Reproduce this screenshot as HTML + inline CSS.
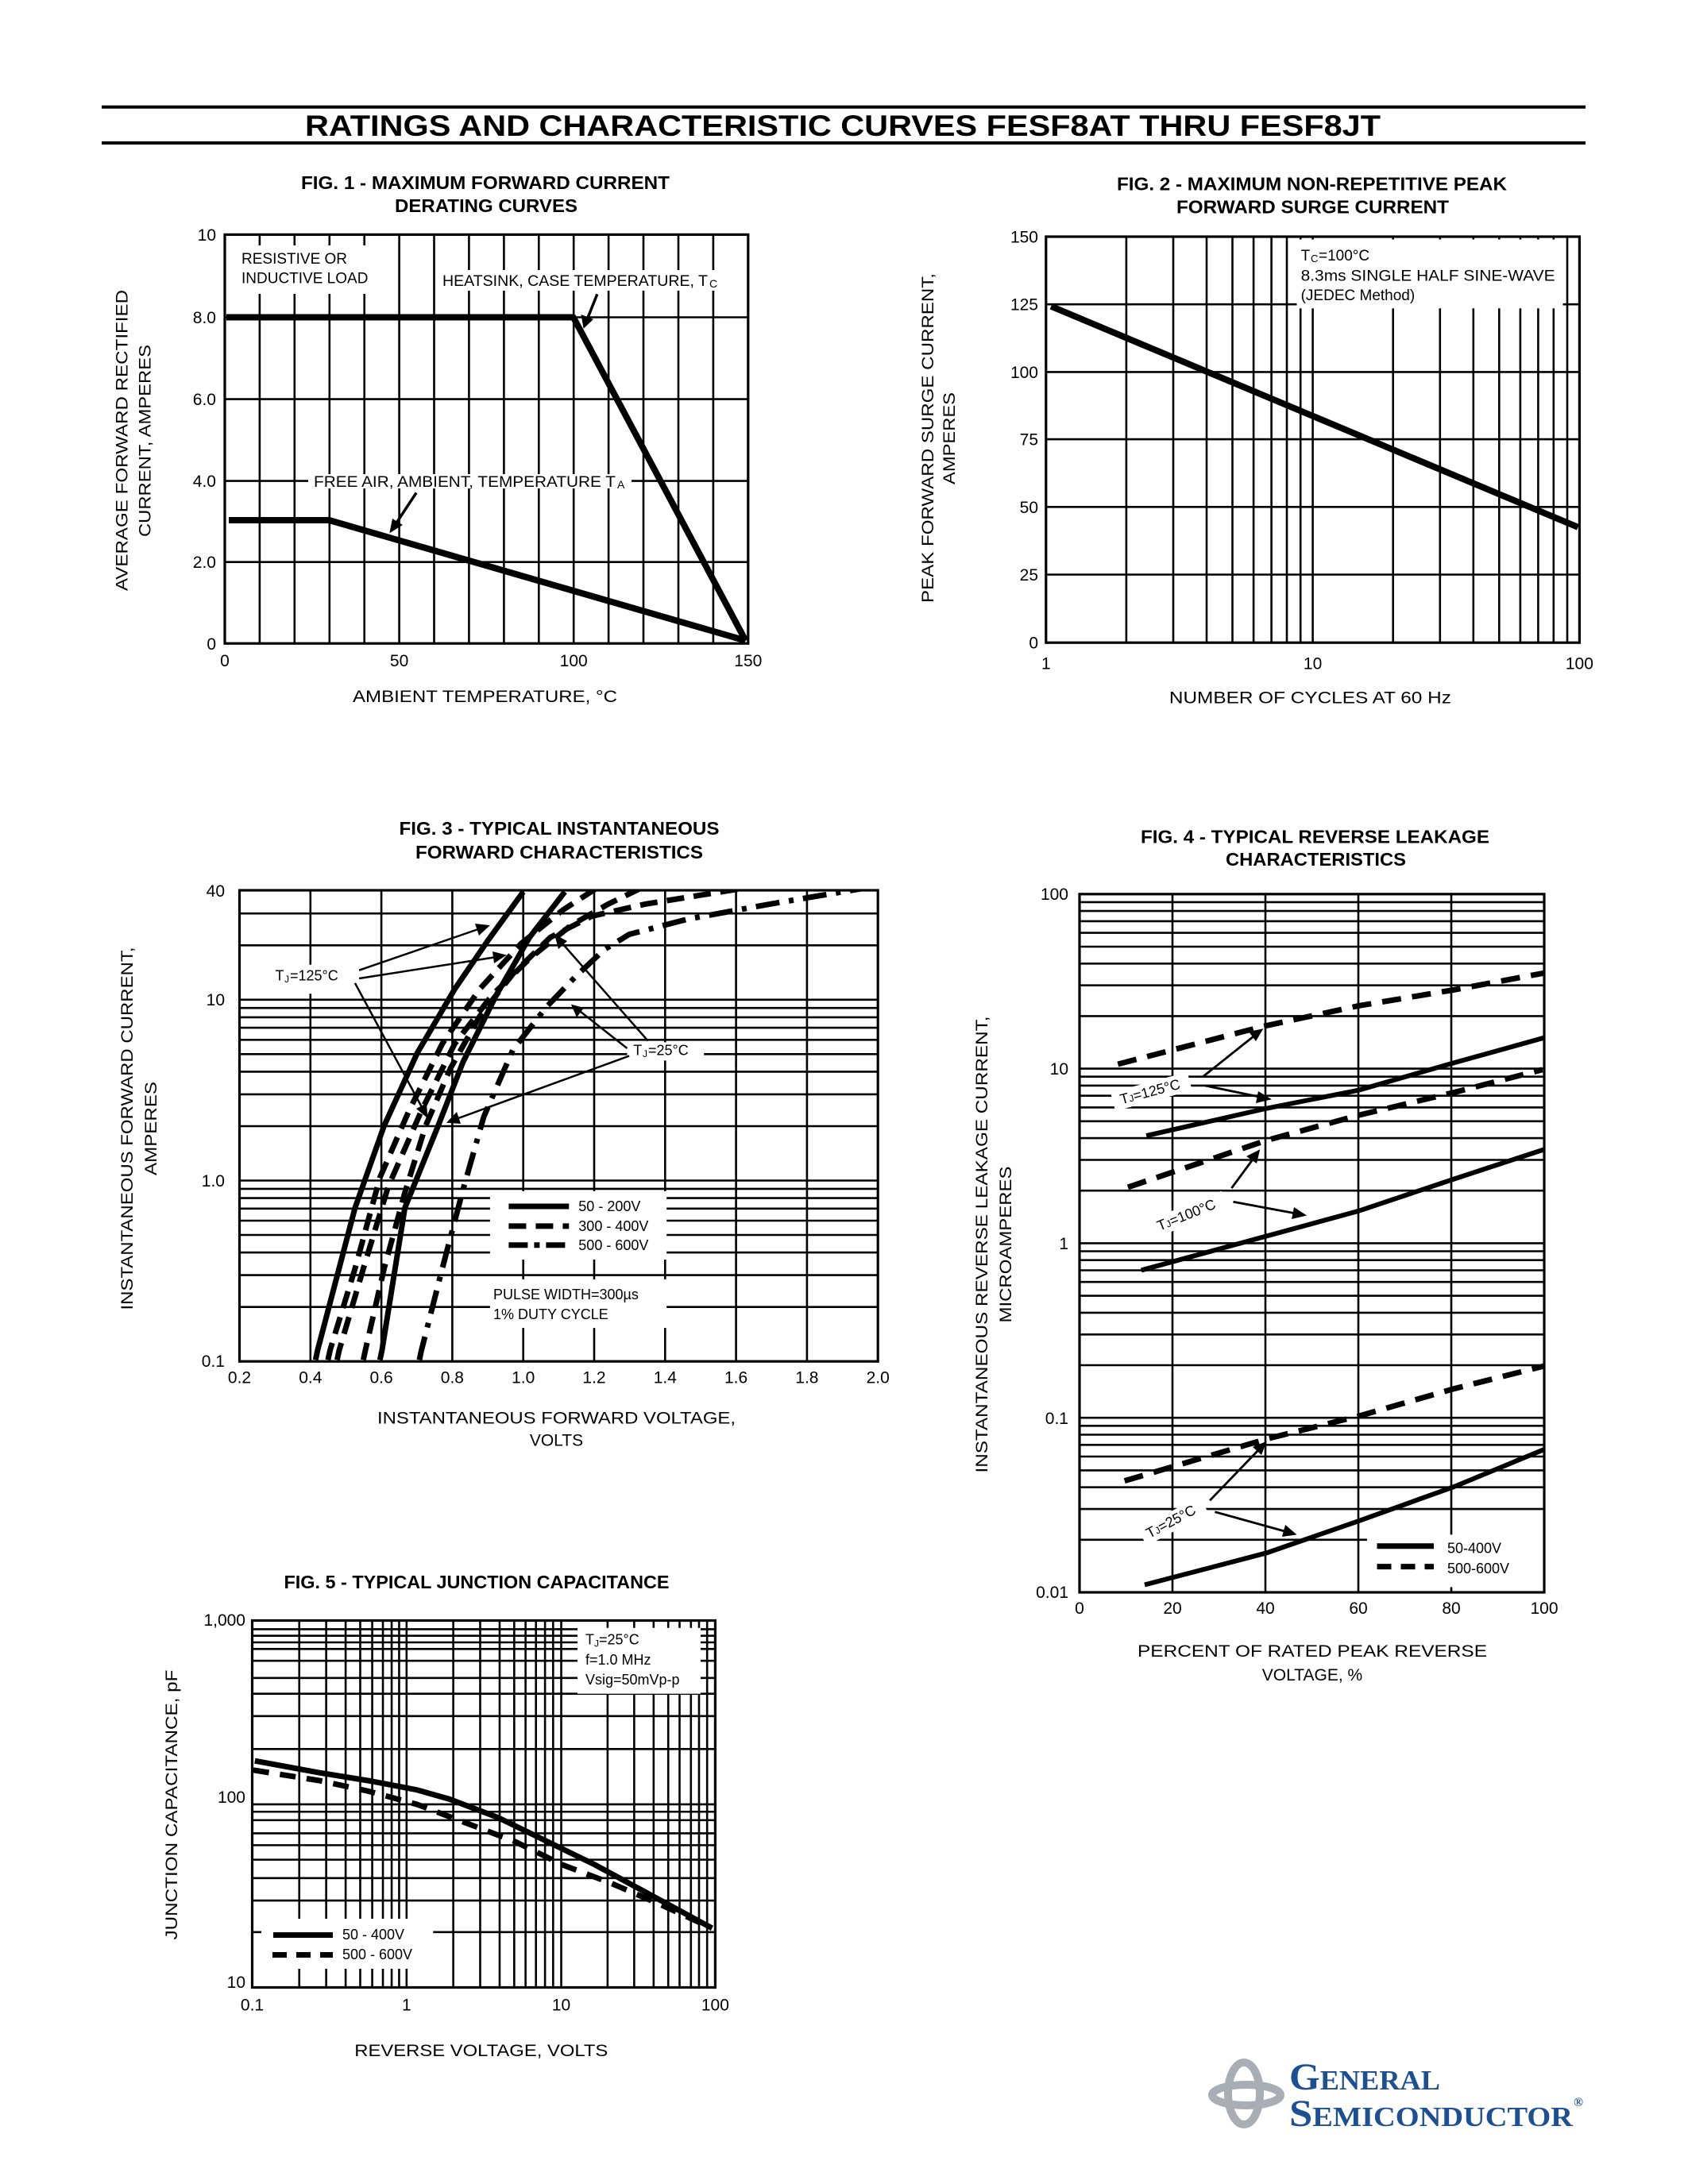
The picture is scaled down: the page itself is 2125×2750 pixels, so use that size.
<!DOCTYPE html>
<html><head><meta charset="utf-8"><style>
html,body{margin:0;padding:0;background:#fff;}
svg{display:block;}
text{font-family:"Liberation Sans",Arial,sans-serif;fill:#000;}
text.serif{font-family:"Liberation Serif","DejaVu Serif",serif;font-weight:bold;fill:#1c4f93;}
.t{font-size:21px;}
.b{font-weight:bold;font-size:23px;}
.g{stroke:#000;stroke-width:2.6;fill:none;}
.bx{stroke:#000;stroke-width:3.2;fill:none;}
.c{stroke:#000;fill:none;stroke-linejoin:round;}
.ns{vector-effect:non-scaling-stroke;}
</style></head><body>
<svg width="2125" height="2750" viewBox="0 0 2125 2750" xmlns="http://www.w3.org/2000/svg">
<defs>
<clipPath id="c3"><rect x="301.5" y="1121" width="803.7" height="593.2"/></clipPath>
<clipPath id="c4"><rect x="1359" y="1125.8" width="585" height="879.2"/></clipPath>
<clipPath id="c5"><rect x="317.5" y="2040.5" width="582.9" height="462"/></clipPath>
</defs>
<rect width="2125" height="2750" fill="#fff"/>

<!-- HEADER -->
<line x1="128" y1="134.7" x2="1996" y2="134.7" stroke="#000" stroke-width="4"/>
<line x1="128" y1="180" x2="1996" y2="180" stroke="#000" stroke-width="4"/>
<text x="384" y="171" style="font-weight:bold;font-size:37px" textLength="1354" lengthAdjust="spacingAndGlyphs">RATINGS AND CHARACTERISTIC CURVES FESF8AT THRU FESF8JT</text>

<!-- ============ FIG 1 ============ -->
<text class="b" x="379" y="238" textLength="464" lengthAdjust="spacingAndGlyphs">FIG. 1 - MAXIMUM FORWARD CURRENT</text>
<text class="b" x="497" y="267" textLength="230" lengthAdjust="spacingAndGlyphs">DERATING CURVES</text>
<g class="g">
<path d="M326.9 295.4V810.2M370.8 295.4V810.2M414.8 295.4V810.2M458.7 295.4V810.2M502.6 295.4V810.2M546.5 295.4V810.2M590.4 295.4V810.2M634.4 295.4V810.2M678.3 295.4V810.2M722.2 295.4V810.2M766.1 295.4V810.2M810 295.4V810.2M854 295.4V810.2M897.9 295.4V810.2"/>
<path d="M283 399.5H941.8M283 502.6H941.8M283 605.6H941.8M283 707.7H941.8"/>
</g>
<rect x="287" y="309" width="196" height="61" fill="#fff"/>
<rect x="550" y="340" width="380" height="26" fill="#fff"/>
<rect x="388" y="597" width="407" height="18" fill="#fff"/>
<rect class="bx" x="283" y="295.4" width="658.8" height="514.8"/>
<text x="304" y="332" style="font-size:19px">RESISTIVE OR</text>
<text x="304" y="356.6" style="font-size:19px">INDUCTIVE LOAD</text>
<text x="557" y="360" style="font-size:19px" textLength="334" lengthAdjust="spacingAndGlyphs">HEATSINK, CASE TEMPERATURE, T</text><text x="893" y="362" style="font-size:14px">C</text>
<text x="395" y="613" style="font-size:19px" textLength="380" lengthAdjust="spacingAndGlyphs">FREE AIR, AMBIENT, TEMPERATURE T</text><text x="777" y="615" style="font-size:14px">A</text>
<polyline class="c" stroke-width="8" points="285,399.5 721.8,399.5 938.6,806.6"/>
<polyline class="c" stroke-width="8" points="288,655 414.4,655 938.6,806.6"/>
<line x1="751.8" y1="370.4" x2="740" y2="400" stroke="#000" stroke-width="3.5"/>
<polygon points="734.6,413.8 731.5,396 747,402"/>
<line x1="524.1" y1="620.4" x2="500" y2="657" stroke="#000" stroke-width="3.5"/>
<polygon points="490.3,671.4 494,653 507,661"/>
<g class="t" text-anchor="end">
<text x="272" y="303">10</text><text x="272" y="407">8.0</text><text x="272" y="510">6.0</text><text x="272" y="613">4.0</text><text x="272" y="715">2.0</text><text x="272" y="818">0</text>
</g>
<g class="t" text-anchor="middle">
<text x="283" y="839">0</text><text x="502.6" y="839">50</text><text x="722.2" y="839">100</text><text x="941.8" y="839">150</text>
<text x="610.5" y="884" textLength="333" lengthAdjust="spacingAndGlyphs">AMBIENT TEMPERATURE, °C</text>
<text transform="translate(160.6,554.5) rotate(-90)" textLength="379" lengthAdjust="spacingAndGlyphs">AVERAGE FORWARD RECTIFIED</text>
<text transform="translate(189.3,555) rotate(-90)" textLength="242" lengthAdjust="spacingAndGlyphs">CURRENT, AMPERES</text>
</g>

<!-- ============ FIG 2 ============ -->
<text class="b" x="1406" y="239.3" textLength="491" lengthAdjust="spacingAndGlyphs">FIG. 2 - MAXIMUM NON-REPETITIVE PEAK</text>
<text class="b" x="1481" y="268.4" textLength="343" lengthAdjust="spacingAndGlyphs">FORWARD SURGE CURRENT</text>
<g class="g">
<path d="M1417.9 298V809.2M1477 298V809.2M1519 298V809.2M1551.5 298V809.2M1578.1 298V809.2M1600.6 298V809.2M1620 298V809.2M1637.2 298V809.2M1652.6 298V809.2M1753.7 298V809.2M1812.8 298V809.2M1854.8 298V809.2M1887.3 298V809.2M1913.9 298V809.2M1936.4 298V809.2M1955.8 298V809.2M1973 298V809.2"/>
<path d="M1316.8 383.2H1988.4M1316.8 468.4H1988.4M1316.8 553.1H1988.4M1316.8 638.3H1988.4M1316.8 723.5H1988.4"/>
</g>
<rect x="1632.5" y="301.5" width="335" height="86.8" fill="#fff"/>
<rect class="bx" x="1316.8" y="298" width="671.6" height="511.2"/>
<text x="1637.6" y="328" style="font-size:19px">T</text><text x="1650" y="330" style="font-size:13px">C</text><text x="1660" y="328" style="font-size:19px">=100°C</text>
<text x="1637.6" y="353.6" style="font-size:19px" textLength="320" lengthAdjust="spacingAndGlyphs">8.3ms SINGLE HALF SINE-WAVE</text>
<text x="1637.6" y="378" style="font-size:19px">(JEDEC Method)</text>
<line x1="1323.2" y1="385.7" x2="1986.5" y2="663.8" stroke="#000" stroke-width="8"/>
<g class="t" text-anchor="end">
<text x="1307" y="305.5">150</text><text x="1307" y="390.7">125</text><text x="1307" y="475.9">100</text><text x="1307" y="560.6">75</text><text x="1307" y="645.8">50</text><text x="1307" y="731">25</text><text x="1307" y="816.7">0</text>
</g>
<g class="t" text-anchor="middle">
<text x="1316.8" y="842.3">1</text><text x="1652.6" y="842.3">10</text><text x="1988.4" y="842.3">100</text>
<text x="1649.4" y="885.7" textLength="355" lengthAdjust="spacingAndGlyphs">NUMBER OF CYCLES AT 60 Hz</text>
<text transform="translate(1175,551.5) rotate(-90)" textLength="415" lengthAdjust="spacingAndGlyphs">PEAK FORWARD SURGE CURRENT,</text>
<text transform="translate(1202,552) rotate(-90)" textLength="116" lengthAdjust="spacingAndGlyphs">AMPERES</text>
</g>

<!-- ============ FIG 3 ============ -->
<text class="b" x="704" y="1051" text-anchor="middle" textLength="403" lengthAdjust="spacingAndGlyphs">FIG. 3 - TYPICAL INSTANTANEOUS</text>
<text class="b" x="704" y="1080.8" text-anchor="middle" textLength="362" lengthAdjust="spacingAndGlyphs">FORWARD CHARACTERISTICS</text>
<g class="g">
<path d="M390.8 1121V1714.2M480.1 1121V1714.2M569.4 1121V1714.2M658.7 1121V1714.2M748 1121V1714.2M837.3 1121V1714.2M926.6 1121V1714.2M1015.9 1121V1714.2"/>
<path d="M301.5 1645.7H1105.2M301.5 1605.6H1105.2M301.5 1577.1H1105.2M301.5 1555H1105.2M301.5 1537H1105.2M301.5 1521.8H1105.2M301.5 1508.6H1105.2M301.5 1496.9H1105.2M301.5 1486.5H1105.2M301.5 1418H1105.2M301.5 1377.9H1105.2M301.5 1349.4H1105.2M301.5 1327.3H1105.2M301.5 1309.3H1105.2M301.5 1294.1H1105.2M301.5 1280.9H1105.2M301.5 1269.2H1105.2M301.5 1258.8H1105.2M301.5 1190.3H1105.2M301.5 1150.2H1105.2"/>
</g>
<rect x="339.7" y="1214.8" width="104.6" height="36.4" fill="#fff"/>
<rect x="789.5" y="1312.4" width="96.7" height="23" fill="#fff"/>
<rect x="616.9" y="1499.9" width="222.3" height="86.1" fill="#fff"/>
<rect x="616.9" y="1610.9" width="222.3" height="61.2" fill="#fff"/>
<g clip-path="url(#c3)">
<g transform="matrix(0.5230 0 0 0.3827 290 1100)" fill="none" stroke="#000">
<polyline class="ns" stroke-width="7" points="205,1600 210,1568 300,1100 370,830 450,590 540,380 620,220 705,60"/>
<polyline class="ns" stroke-width="7" stroke-dasharray="22 12" points="235,1600 240,1568 300,1300 360,1000 430,780 510,560 600,380 700,230 800,120 885,45"/>
<polyline class="ns" stroke-width="7" stroke-dasharray="22 12" points="257,1600 262,1568 320,1300 380,1030 460,780 540,560 630,400 720,280 820,170 910,100 1000,40"/>
<polyline class="ns" stroke-width="7" stroke-dasharray="22 12" points="320,1600 325,1568 370,1300 420,1050 470,830 530,640 600,470 680,330 770,210 870,140 1000,100 1250,45"/>
<polyline class="ns" stroke-width="7" points="360,1600 365,1568 420,1100 500,830 560,620 640,400 720,210 805,60"/>
<polyline class="ns" stroke-width="7" stroke-dasharray="30 12 6 12" points="455,1600 460,1568 510,1300 560,1040 610,800 680,580 760,440 830,340 900,250 960,200 1100,150 1300,100 1560,40"/>
</g>
</g>
<rect class="bx" x="301.5" y="1121" width="803.7" height="593.2"/>
<g stroke="#000" stroke-width="2.5">
<line x1="452.1" y1="1221.7" x2="602" y2="1170"/>
<line x1="452.1" y1="1232" x2="622" y2="1205.5"/>
<line x1="446.9" y1="1237.8" x2="531" y2="1394"/>
<line x1="815.6" y1="1310.5" x2="708" y2="1188"/>
<line x1="789.5" y1="1320" x2="731" y2="1274"/>
<line x1="792.1" y1="1329.6" x2="577" y2="1408"/>
</g>
<polygon points="616.9,1165.1 598,1163 603,1178"/>
<polygon points="637.8,1202.6 620,1198 622,1213"/>
<polygon points="538.4,1408.1 537,1389 524,1396"/>
<polygon points="698,1176.5 703,1195 714,1185"/>
<polygon points="718.9,1264.6 726,1281 735,1269"/>
<polygon points="562,1413.8 575,1400 580,1415"/>
<text x="346.5" y="1234.7" style="font-size:18px">T</text><text x="358" y="1237" style="font-size:12px">J</text><text x="365" y="1234.7" style="font-size:18px">=125°C</text>
<text x="797.3" y="1328.5" style="font-size:18px">T</text><text x="809" y="1331" style="font-size:12px">J</text><text x="816" y="1328.5" style="font-size:18px">=25°C</text>
<line x1="640.4" y1="1519" x2="716.3" y2="1519" stroke="#000" stroke-width="7"/>
<line x1="640.4" y1="1543.9" x2="716.3" y2="1543.9" stroke="#000" stroke-width="7" stroke-dasharray="22 12"/>
<line x1="640.4" y1="1567.7" x2="716.3" y2="1567.7" stroke="#000" stroke-width="7" stroke-dasharray="24 8 7 8"/>
<g style="font-size:18px">
<text x="728.3" y="1525">50 - 200V</text><text x="728.3" y="1550">300 - 400V</text><text x="728.3" y="1574">500 - 600V</text>
<text x="621" y="1636">PULSE WIDTH=300µs</text><text x="621" y="1661">1% DUTY CYCLE</text>
</g>
<g class="t" text-anchor="end">
<text x="283" y="1129">40</text><text x="283" y="1266">10</text><text x="283" y="1494">1.0</text><text x="283" y="1721">0.1</text>
</g>
<g class="t" text-anchor="middle">
<text x="301.5" y="1741.5">0.2</text><text x="390.8" y="1741.5">0.4</text><text x="480.1" y="1741.5">0.6</text><text x="569.4" y="1741.5">0.8</text><text x="658.7" y="1741.5">1.0</text><text x="748" y="1741.5">1.2</text><text x="837.3" y="1741.5">1.4</text><text x="926.6" y="1741.5">1.6</text><text x="1015.9" y="1741.5">1.8</text><text x="1105.2" y="1741.5">2.0</text>
<text x="700.5" y="1792.6" textLength="451" lengthAdjust="spacingAndGlyphs">INSTANTANEOUS FORWARD VOLTAGE,</text>
<text x="700.5" y="1820.6">VOLTS</text>
<text transform="translate(167,1421) rotate(-90)" textLength="457" lengthAdjust="spacingAndGlyphs">INSTANTANEOUS FORWARD CURRENT,</text>
<text transform="translate(197,1421) rotate(-90)" textLength="118" lengthAdjust="spacingAndGlyphs">AMPERES</text>
</g>

<!-- ============ FIG 4 ============ -->
<text class="b" x="1436" y="1061.7" textLength="439" lengthAdjust="spacingAndGlyphs">FIG. 4 - TYPICAL REVERSE LEAKAGE</text>
<text class="b" x="1543" y="1090" textLength="227" lengthAdjust="spacingAndGlyphs">CHARACTERISTICS</text>
<g class="g">
<path d="M1476 1125.8V2005M1593 1125.8V2005M1710 1125.8V2005M1827 1125.8V2005"/>
<path d="M1359 1938.8H1944M1359 1900.1H1944M1359 1872.7H1944M1359 1851.4H1944M1359 1834H1944M1359 1819.3H1944M1359 1806.5H1944M1359 1795.3H1944M1359 1785.2H1944
M1359 1719H1944M1359 1680.3H1944M1359 1652.9H1944M1359 1631.6H1944M1359 1614.2H1944M1359 1599.5H1944M1359 1586.7H1944M1359 1575.5H1944M1359 1565.4H1944
M1359 1499.2H1944M1359 1460.5H1944M1359 1433.1H1944M1359 1411.8H1944M1359 1394.4H1944M1359 1379.7H1944M1359 1366.9H1944M1359 1355.7H1944M1359 1345.6H1944
M1359 1279.4H1944M1359 1240.7H1944M1359 1213.3H1944M1359 1192H1944M1359 1174.6H1944M1359 1159.9H1944M1359 1147.1H1944M1359 1135.9H1944"/>
</g>
<rect x="1720.9" y="1932.4" width="222" height="66" fill="#fff"/>
<rect x="-50" y="-12" width="100" height="24" fill="#fff" transform="translate(1449.4,1374.4) rotate(-15)"/>
<rect x="-50" y="-12" width="100" height="24" fill="#fff" transform="translate(1495.7,1529.4) rotate(-22)"/>
<rect x="-44" y="-12" width="88" height="24" fill="#fff" transform="translate(1476.8,1915.2) rotate(-28)"/>
<g clip-path="url(#c4)">
<g transform="matrix(0.42088 0 0 0.57405 1300 1100)" fill="none" stroke="#000">
<polyline class="ns" stroke-width="7" stroke-dasharray="24 14" points="255,418 690,335 975,290 1260,255 1530,218"/>
<polyline class="ns" stroke-width="6" points="340,575 700,515 975,475 1260,415 1530,360"/>
<polyline class="ns" stroke-width="7" stroke-dasharray="24 14" points="285,688 700,585 975,530 1260,480 1525,430"/>
<polyline class="ns" stroke-width="6" points="325,870 700,795 975,740 1260,670 1530,605"/>
<polyline class="ns" stroke-width="7" stroke-dasharray="24 14" points="275,1332 700,1240 975,1190 1260,1130 1530,1080"/>
<polyline class="ns" stroke-width="6" points="335,1560 700,1490 975,1420 1260,1345 1530,1263"/>
</g>
</g>
<rect class="bx" x="1359" y="1125.8" width="585" height="879.2"/>
<g stroke="#000" stroke-width="2.8">
<line x1="1514.6" y1="1355.5" x2="1578" y2="1305"/>
<line x1="1516.7" y1="1366.9" x2="1585" y2="1381"/>
<line x1="1550.4" y1="1496.1" x2="1577" y2="1460"/>
<line x1="1552.5" y1="1513.3" x2="1629" y2="1527.5"/>
<line x1="1523.1" y1="1889.3" x2="1584" y2="1826"/>
<line x1="1529.4" y1="1903.7" x2="1617" y2="1928"/>
</g>
<polygon points="1590.4,1295.2 1572,1299 1581,1311"/>
<polygon points="1600.9,1384.2 1584,1374 1581,1389"/>
<polygon points="1586.2,1447.3 1569,1456 1582,1465"/>
<polygon points="1645.1,1530.5 1629,1520 1626,1535"/>
<polygon points="1594.6,1814.7 1577,1822 1588,1832"/>
<polygon points="1632.5,1932.4 1618,1920 1614,1935"/>
<g style="font-size:18px" text-anchor="middle">
<text transform="translate(1449.4,1380.4) rotate(-15)">T<tspan style="font-size:12px">J</tspan>=125°C</text>
<text transform="translate(1495.7,1535.4) rotate(-22)">T<tspan style="font-size:12px">J</tspan>=100°C</text>
<text transform="translate(1476.8,1921.2) rotate(-28)">T<tspan style="font-size:12px">J</tspan>=25°C</text>
</g>
<line x1="1733.5" y1="1946.7" x2="1805" y2="1946.7" stroke="#000" stroke-width="7"/>
<line x1="1733.5" y1="1972.6" x2="1805" y2="1972.6" stroke="#000" stroke-width="7" stroke-dasharray="18 12"/>
<text x="1822" y="1955.3" style="font-size:18px">50-400V</text>
<text x="1822" y="1981.2" style="font-size:18px">500-600V</text>
<g class="t" text-anchor="end">
<text x="1345" y="1133">100</text><text x="1345" y="1353">10</text><text x="1345" y="1573">1</text><text x="1345" y="1793">0.1</text><text x="1345" y="2012">0.01</text>
</g>
<g class="t" text-anchor="middle">
<text x="1359" y="2032">0</text><text x="1476" y="2032">20</text><text x="1593" y="2032">40</text><text x="1710" y="2032">60</text><text x="1827" y="2032">80</text><text x="1944" y="2032">100</text>
<text x="1652" y="2086" textLength="440" lengthAdjust="spacingAndGlyphs">PERCENT OF RATED PEAK REVERSE</text>
<text x="1652" y="2116">VOLTAGE, %</text>
<text transform="translate(1243,1567) rotate(-90)" textLength="575" lengthAdjust="spacingAndGlyphs">INSTANTANEOUS REVERSE LEAKAGE CURRENT,</text>
<text transform="translate(1273,1567) rotate(-90)" textLength="197" lengthAdjust="spacingAndGlyphs">MICROAMPERES</text>
</g>

<!-- ============ FIG 5 ============ -->
<text class="b" x="357.5" y="2000" textLength="485" lengthAdjust="spacingAndGlyphs">FIG. 5 - TYPICAL JUNCTION CAPACITANCE</text>
<g transform="matrix(0.40816 0 0 0.33167 280 2000)" fill="none" stroke="#000">
<path class="ns" stroke-width="2.6" d="M92 155H1520M92 180H1520M92 205H1520M92 230H1520M92 275H1520M92 340H1520M92 400H1520M92 485H1520M92 610H1520M92 820H1520M92 848H1520M92 880H1520M92 930H1520M92 975H1520M92 1030H1520M92 1100H1520M92 1185H1520M92 1305H1520"/>
<path class="ns" stroke-width="2.6" d="M237 122V1515M320 122V1515M380 122V1515M425 122V1515M462 122V1515M495 122V1515M522 122V1515M545 122V1515M568 122V1515M712 122V1515M795 122V1515M855 122V1515M900 122V1515M935 122V1515M967 122V1515M995 122V1515M1020 122V1515M1045 122V1515M1188 122V1515M1270 122V1515M1330 122V1515M1375 122V1515M1410 122V1515M1445 122V1515M1470 122V1515M1495 122V1515"/>
</g>
<rect x="727" y="2049.8" width="155" height="82.9" fill="#fff"/>
<rect x="329" y="2416" width="216.3" height="63" fill="#fff"/>
<g clip-path="url(#c5)">
<g transform="matrix(0.40816 0 0 0.33167 280 2000)" fill="none" stroke="#000">
<polyline class="ns" stroke-width="7" points="100,655 300,700 450,730 600,765 700,800 850,870 1000,960 1150,1050 1300,1150 1510,1290"/>
<polyline class="ns" stroke-width="7" stroke-dasharray="20 14" points="95,690 300,730 450,770 600,820 750,890 900,960 1050,1050 1200,1120 1350,1200 1510,1290"/>
</g>
</g>
<rect class="bx" x="317.5" y="2040.5" width="582.9" height="462"/>
<text x="737" y="2070.3" style="font-size:18px">T<tspan style="font-size:12px" dy="3">J</tspan><tspan dy="-3">=25°C</tspan></text>
<text x="737" y="2096.2" style="font-size:18px">f=1.0 MHz</text>
<text x="737" y="2121" style="font-size:18px">Vsig=50mVp-p</text>
<line x1="344" y1="2436.5" x2="419" y2="2436.5" stroke="#000" stroke-width="7"/>
<line x1="343" y1="2461.5" x2="419" y2="2461.5" stroke="#000" stroke-width="7" stroke-dasharray="18 12"/>
<text x="431" y="2442" style="font-size:18px">50 - 400V</text>
<text x="431" y="2467" style="font-size:18px">500 - 600V</text>
<g class="t" text-anchor="end">
<text x="309" y="2047">1,000</text><text x="309" y="2270">100</text><text x="309" y="2503">10</text>
</g>
<g class="t" text-anchor="middle">
<text x="317.5" y="2531.7">0.1</text><text x="511.8" y="2531.7">1</text><text x="706.5" y="2531.7">10</text><text x="900.4" y="2531.7">100</text>
<text x="605.8" y="2589" textLength="319" lengthAdjust="spacingAndGlyphs">REVERSE VOLTAGE, VOLTS</text>
<text transform="translate(223,2272.5) rotate(-90)" textLength="340" lengthAdjust="spacingAndGlyphs">JUNCTION CAPACITANCE, pF</text>
</g>

<!-- LOGO -->
<g fill="none" stroke="#a9aeb4" stroke-width="10">
<ellipse cx="1566" cy="2636" rx="20" ry="39"/>
<ellipse cx="1569" cy="2638" rx="43" ry="13"/>
</g>
<text class="serif" x="1623" y="2631" textLength="190" lengthAdjust="spacingAndGlyphs" style="font-size:48px">G<tspan style="font-size:35px">ENERAL</tspan></text>
<text class="serif" x="1623" y="2677" textLength="357" lengthAdjust="spacingAndGlyphs" style="font-size:48px">S<tspan style="font-size:35px">EMICONDUCTOR</tspan></text>
<text class="serif" x="1981" y="2652" style="font-size:16px">®</text>
</svg>
</body></html>
